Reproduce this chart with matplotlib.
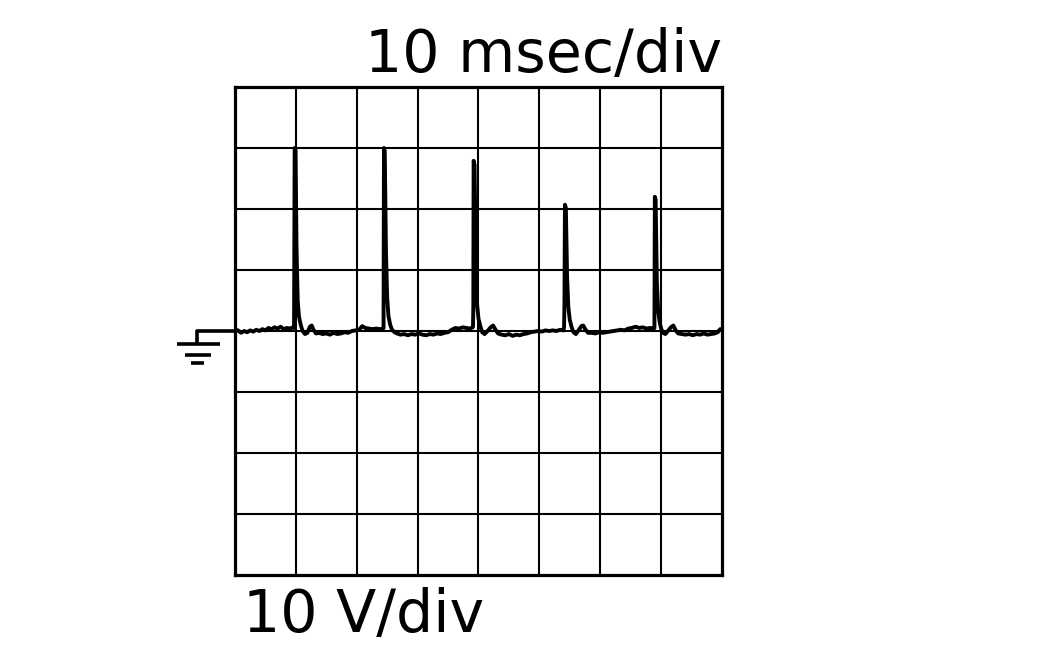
import matplotlib
matplotlib.use("Agg")
import matplotlib.pyplot as plt
from matplotlib.lines import Line2D

# ---- data (time in ms, voltage in V) ----
time_ms = [
    0.0, 0.5, 1.0, 1.5, 2.0, 2.5, 3.0, 3.5, 4.0, 4.5, 5.0, 5.5, 6.0, 6.5, 7.0, 7.5, 8.0, 8.5, 9.0, 9.5,
    9.7, 9.8, 9.95, 10.1, 10.3, 10.5, 10.8, 11.1, 11.5, 11.9, 12.3, 12.6, 12.9, 13.3,
    13.8, 14.4, 15.0, 15.6, 16.2, 16.8, 17.4, 18.0, 18.6, 19.2, 19.8, 20.4, 20.9, 21.4, 22.0, 22.6, 23.2, 23.8, 24.3,
    24.4, 24.47, 24.6, 24.8, 25.0, 25.2, 25.5, 25.8, 26.2,
    26.6, 27.2, 27.8, 28.4, 29.0, 29.6, 30.2, 30.8, 31.4, 32.0, 32.6, 33.2, 33.8, 34.4, 35.0, 35.6, 36.2, 36.8, 37.4, 38.0, 38.6, 39.05,
    39.1, 39.15, 39.2, 39.35, 39.55, 39.75, 40.0, 40.3, 40.6, 41.0, 41.5, 42.0, 42.4, 42.8, 43.2,
    43.8, 44.4, 45.0, 45.6, 46.2, 46.8, 47.4, 48.0, 48.6, 49.2, 49.8, 50.4, 51.0, 51.6, 52.2, 52.8, 53.4, 53.9,
    54.05, 54.12, 54.2, 54.35, 54.55, 54.75, 55.0, 55.3, 55.6, 56.0, 56.5, 56.9, 57.2, 57.6, 58.0,
    58.6, 59.2, 59.8, 60.4, 61.0, 61.6, 62.2, 62.8, 63.4, 64.0, 64.6, 65.2, 65.8, 66.4, 67.0, 67.6, 68.2, 68.8,
    68.9, 68.97, 69.1, 69.3, 69.5, 69.75, 70.0, 70.3, 70.7, 71.1, 71.6, 72.0, 72.4, 72.8,
    73.4, 74.0, 74.6, 75.2, 75.8, 76.4, 77.0, 77.6, 78.2, 78.8, 79.3, 79.7, 80.0,
]
voltage_v = [
    0.2, 0.1, -0.3, 0.0, -0.2, 0.1, -0.1, 0.2, 0.0, 0.3, 0.1, 0.5, 0.3, 0.6, 0.4, 0.7, 0.3, 0.5, 0.4, 0.6,
    0.5, 30.0, 29.6, 14.0, 5.0, 2.4, 1.0, 0.0, -0.5, -0.3, 0.7, 0.9, 0.2, -0.4,
    -0.3, -0.5, -0.4, -0.6, -0.3, -0.5, -0.4, -0.2, -0.3, 0.0, 0.1, 0.2, 0.8, 0.5, 0.4, 0.3, 0.4, 0.3, 0.4,
    0.5, 30.0, 29.5, 13.0, 5.5, 2.5, 1.0, 0.2, -0.2,
    -0.4, -0.6, -0.5, -0.7, -0.5, -0.6, -0.4, -0.6, -0.7, -0.5, -0.6, -0.4, -0.5, -0.3, -0.2, 0.2, 0.5, 0.4, 0.6, 0.5, 0.4, 0.6,
    0.8, 4.0, 27.9, 27.2, 12.0, 4.5, 2.0, 0.8, -0.2, -0.5, 0.0, 0.6, 0.9, 0.2, -0.4,
    -0.6, -0.7, -0.5, -0.8, -0.6, -0.7, -0.5, -0.4, -0.2, -0.1, 0.0, -0.1, 0.1, 0.0, 0.1, 0.0, 0.2, 0.1,
    0.5, 4.5, 20.7, 20.2, 9.0, 4.0, 1.8, 0.6, -0.2, -0.5, 0.2, 0.8, 0.9, 0.2, -0.3,
    -0.3, -0.4, -0.2, -0.3, -0.2, -0.1, 0.0, 0.1, 0.2, 0.1, 0.4, 0.5, 0.7, 0.5, 0.6, 0.4, 0.5, 0.4,
    0.5, 22.0, 21.5, 8.0, 3.5, 1.5, 0.4, -0.3, -0.5, 0.0, 0.6, 0.9, 0.1, -0.4,
    -0.5, -0.6, -0.5, -0.7, -0.5, -0.6, -0.4, -0.6, -0.5, -0.4, -0.2, 0.3, 0.3,
]

x_divisions = [0, 10, 20, 30, 40, 50, 60, 70, 80]
y_divisions = [-40, -30, -20, -10, 0, 10, 20, 30, 40]
time_label = "10 msec/div"
volt_label = "10 V/div"

fig = plt.figure(figsize=(10.63, 6.61), dpi=100)
ax = fig.add_axes([235 / 1063, 1 - 575 / 661, 487 / 1063, 488 / 661])
ax.set_xlim(x_divisions[0], x_divisions[-1])
ax.set_ylim(y_divisions[0], y_divisions[-1])

for xv in x_divisions[1:-1]:
    ax.axvline(xv, color="black", lw=1.5, zorder=1)
for yv in y_divisions[1:-1]:
    ax.axhline(yv, color="black", lw=1.5, zorder=1)

ax.plot(time_ms, voltage_v, color="black", lw=2.8, zorder=3, solid_joinstyle="round")

ax.set_xticks([])
ax.set_yticks([])
for sp in ax.spines.values():
    sp.set_linewidth(2.3)
    sp.set_color("black")

# ground reference marker (left of the screen, at 0 V)
gkw = dict(color="black", lw=2.6, clip_on=False, solid_capstyle="butt")
ax.add_line(Line2D([0, -6.3, -6.3], [0, 0, -2.0], **gkw))
ax.add_line(Line2D([-9.6, -2.5], [-2.1, -2.1], **gkw))
ax.add_line(Line2D([-8.2, -3.9], [-3.9, -3.9], **gkw))
ax.add_line(Line2D([-7.2, -5.1], [-5.3, -5.3], **gkw))

fig.text(722 / 1063, 1 - 72 / 661, time_label, ha="right", va="baseline",
         fontsize=42.2, family="DejaVu Sans", color="black")
fig.text(243 / 1063, 1 - 632 / 661, volt_label, ha="left", va="baseline",
         fontsize=42.2, family="DejaVu Sans", color="black")

fig.savefig("out.png", dpi=100, facecolor="white")
